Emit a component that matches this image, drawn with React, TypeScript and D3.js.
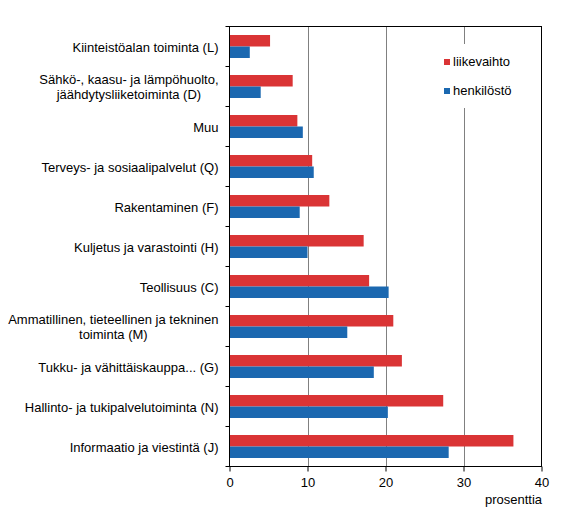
import React, { useRef, useEffect } from "react";
import * as d3 from "d3";

// categories top -> bottom, each label split into lines
const categories: string[][] = [
    ["Kiinteistöalan toiminta (L)"],
    ["Sähkö-, kaasu- ja lämpöhuolto,", "jäähdytysliiketoiminta (D)"],
    ["Muu"],
    ["Terveys- ja sosiaalipalvelut (Q)"],
    ["Rakentaminen (F)"],
    ["Kuljetus ja varastointi (H)"],
    ["Teollisuus (C)"],
    ["Ammatillinen, tieteellinen ja tekninen", "toiminta (M)"],
    ["Tukku- ja vähittäiskauppa... (G)"],
    ["Hallinto- ja tukipalvelutoiminta (N)"],
    ["Informaatio ja viestintä (J)"],
];

const liikevaihto = [5.2, 8.1, 8.7, 10.6, 12.8, 17.2, 17.9, 21.0, 22.1, 27.4, 36.4];
const henkilosto = [2.6, 4.0, 9.4, 10.8, 9.0, 10.0, 20.4, 15.1, 18.5, 20.3, 28.1];

const seriesNames = ["liikevaihto", "henkilöstö"];
const seriesColors = ["#DA3435", "#1B68B0"];
const xTicks = [0, 10, 20, 30, 40];

const App: React.FC = () => {
    const svgRef = useRef<SVGSVGElement | null>(null);

    useEffect(() => {
        const width = 583;
        const height = 527;
        const left = 229.5;
        const right = 541.5;
        const top = 26.5;
        const bottom = 466.5;
        const font = "'Liberation Sans', Arial, sans-serif";
        const fs = 13;

        const svg = d3.select(svgRef.current).attr("width", width).attr("height", height);
        svg.selectAll("*").remove();
        svg.append("rect").attr("width", width).attr("height", height).attr("fill", "#fff");

        const keys = categories.map((_, i) => String(i));
        const yScale = d3.scaleBand().domain(keys).range([top, bottom]).paddingInner(0.425).paddingOuter(0.2125);
        const ySub = d3.scaleBand().domain(seriesNames).range([0, yScale.bandwidth()]);
        const xScale = d3.scaleLinear().domain([0, 40]).range([left, right]);

        // gridlines
        svg.append("g")
            .selectAll("line")
            .data(xTicks.slice(1, -1))
            .enter()
            .append("line")
            .attr("x1", (d) => Math.round(xScale(d)) + 0.5)
            .attr("x2", (d) => Math.round(xScale(d)) + 0.5)
            .attr("y1", top)
            .attr("y2", bottom)
            .attr("stroke", "#808080");

        // bars
        const values = [liikevaihto, henkilosto];
        seriesNames.forEach((s, si) => {
            svg.append("g")
                .selectAll("rect")
                .data(values[si])
                .enter()
                .append("rect")
                .attr("x", xScale(0))
                .attr("y", (_, i) => (yScale(String(i)) as number) + (ySub(s) as number))
                .attr("width", (d) => xScale(d) - xScale(0))
                .attr("height", ySub.bandwidth())
                .attr("fill", seriesColors[si]);
        });

        // legend (white box breaks the gridline)
        const lg = svg.append("g");
        lg.append("rect").attr("x", 438).attr("y", 44).attr("width", 84).attr("height", 64).attr("fill", "#fff");
        seriesNames.forEach((s, i) => {
            const yy = 59 + i * 29;
            lg.append("rect").attr("x", 444).attr("y", yy).attr("width", 6).attr("height", 6).attr("fill", seriesColors[i]);
            lg.append("text")
                .attr("x", 453)
                .attr("y", yy + 6.5)
                .attr("font-family", font)
                .attr("font-size", fs)
                .attr("fill", "#000")
                .text(s);
        });

        // plot frame
        svg.append("rect")
            .attr("x", left)
            .attr("y", top)
            .attr("width", right - left)
            .attr("height", bottom - top)
            .attr("fill", "none")
            .attr("stroke", "#000");

        // y ticks at band boundaries
        const step = yScale.step();
        const bounds = d3.range(categories.length + 1).map((i) => top + i * step);
        svg.append("g")
            .selectAll("line")
            .data(bounds)
            .enter()
            .append("line")
            .attr("x1", left - 4)
            .attr("x2", left)
            .attr("y1", (d) => Math.round(d - 0.5) + 0.5)
            .attr("y2", (d) => Math.round(d - 0.5) + 0.5)
            .attr("stroke", "#000");

        // category labels: block right-aligned, lines centred within block
        const labels = svg.append("g").attr("font-family", font).attr("font-size", fs).attr("fill", "#000");
        categories.forEach((lines, i) => {
            const cy = (yScale(String(i)) as number) + yScale.bandwidth() / 2;
            const t = labels.append("text").attr("text-anchor", "middle");
            const spans = lines.map((ln, li) =>
                t.append("tspan").attr("y", cy + 5 + (li - (lines.length - 1) / 2) * 15).text(ln)
            );
            const w = Math.max(...spans.map((sp) => (sp.node() as SVGTSpanElement).getComputedTextLength()));
            spans.forEach((sp) => sp.attr("x", 218.5 - w / 2));
        });

        // x axis
        const xAxis = d3.axisBottom(xScale).tickValues(xTicks).tickSize(5).tickSizeOuter(0).tickPadding(6);
        const ax = svg.append("g").attr("transform", `translate(0, ${bottom})`).call(xAxis);
        ax.select(".domain").remove();
        ax.selectAll("line").attr("stroke", "#000");
        ax.selectAll("text").attr("font-family", font).attr("font-size", fs).attr("fill", "#000");

        svg.append("text")
            .attr("x", 542)
            .attr("y", 504)
            .attr("text-anchor", "end")
            .attr("font-family", font)
            .attr("font-size", fs)
            .attr("fill", "#000")
            .text("prosenttia");
    }, []);

    return <svg ref={svgRef} style={{ position: "absolute", left: 0, top: 0 }} />;
};

export default App;
